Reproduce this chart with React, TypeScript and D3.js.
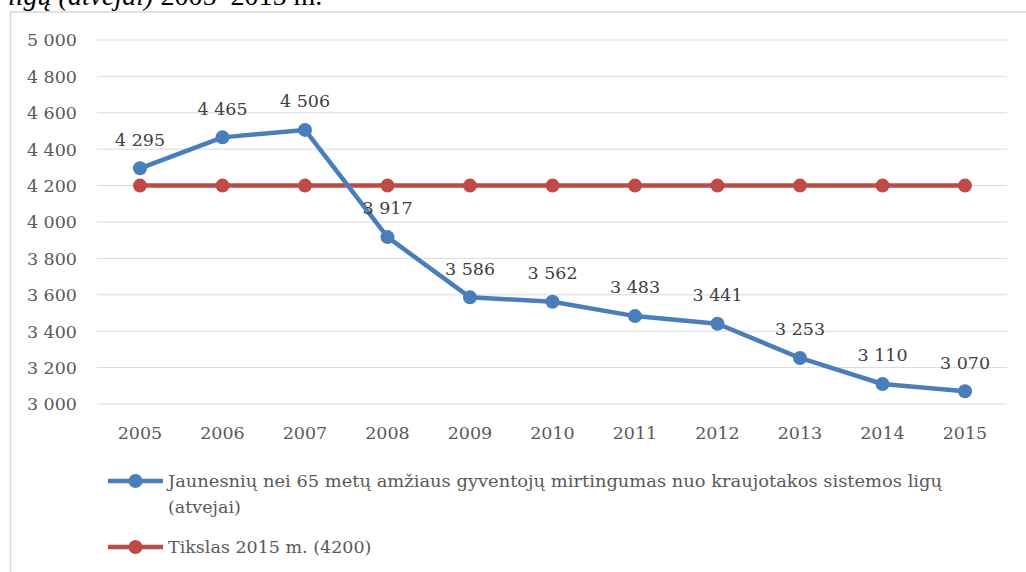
import React from "react";
import * as d3 from "d3";

const years = ["2005","2006","2007","2008","2009","2010","2011","2012","2013","2014","2015"];
const mortality = [4295,4465,4506,3917,3586,3562,3483,3441,3253,3110,3070];
const target = [4200,4200,4200,4200,4200,4200,4200,4200,4200,4200,4200];
const yTicks = [3000,3200,3400,3600,3800,4000,4200,4400,4600,4800,5000];
const seriesNames = [
  "Jaunesnių nei 65 metų amžiaus gyventojų mirtingumas nuo kraujotakos sistemos ligų",
  "(atvejai)",
];
const targetName = "Tikslas 2015 m. (4200)";
const captionItalic = "ligų (atvejai)";
const captionRest = " 2005–2015 m.";

const W = 1026, H = 572;
const BLUE = "#4a7ebb";
const RED = "#be4b48";
const FONT = "'DejaVu Serif', serif";

const fmt = (v: number) => {
  const s = String(v);
  return s.length > 3 ? s.slice(0, s.length - 3) + " " + s.slice(-3) : s;
};

export default function App() {
  const x = d3.scalePoint<string>().domain(years).range([140, 965]);
  const y = d3.scaleLinear().domain([3000, 5000]).range([404, 40]);
  const line = d3.line<number>().x((_, i) => x(years[i]) as number).y((d) => y(d));

  return (
    <div style={{ position: "fixed", left: 0, top: 0 }}>
      <svg width={W} height={H} style={{ display: "block", background: "#fff" }}>
        <text x={8} y={5} fontFamily="'Liberation Serif', serif" fontSize={28} fill="#000">
          <tspan fontStyle="italic">{captionItalic}</tspan>
          <tspan>{captionRest}</tspan>
        </text>
        {/* frame */}
        <line x1={10.5} x2={10.5} y1={12} y2={H} stroke="#d9d9d9" strokeWidth={1.5} />
        <line x1={10} x2={W} y1={12} y2={12} stroke="#d9d9d9" strokeWidth={1.5} />
        {/* grid */}
        {yTicks.map((t) => (
          <g key={t}>
            <line x1={97} x2={1007} y1={y(t)} y2={y(t)} stroke="#d9d9d9" strokeWidth={1} />
            <text x={77} y={y(t)} dy="0.36em" textAnchor="end" fontFamily={FONT} fontSize={17.5} fill="#595959">
              {fmt(t)}
            </text>
          </g>
        ))}
        {years.map((yr) => (
          <text key={yr} x={x(yr)} y={438.5} textAnchor="middle" fontFamily={FONT} fontSize={17.5} fill="#595959">
            {yr}
          </text>
        ))}
        {/* target series */}
        <path d={line(target) || ""} fill="none" stroke={RED} strokeWidth={4.5} strokeLinejoin="round" />
        {target.map((v, i) => (
          <circle key={i} cx={x(years[i])} cy={y(v)} r={7} fill={RED} />
        ))}
        {/* mortality series */}
        <path d={line(mortality) || ""} fill="none" stroke={BLUE} strokeWidth={4.5} strokeLinejoin="round" />
        {mortality.map((v, i) => (
          <circle key={i} cx={x(years[i])} cy={y(v)} r={7} fill={BLUE} />
        ))}
        {mortality.map((v, i) => (
          <text key={i} x={x(years[i])} y={y(v) - 29} dy="0.36em" textAnchor="middle" fontFamily={FONT} fontSize={17.5} fill="#404040">
            {fmt(v)}
          </text>
        ))}
        {/* legend */}
        <line x1={108} x2={163} y1={481} y2={481} stroke={BLUE} strokeWidth={4.5} />
        <circle cx={135.5} cy={481} r={7} fill={BLUE} />
        <text x={168} y={481} dy="0.36em" fontFamily={FONT} fontSize={17.5} fill="#595959" textLength={774} lengthAdjust="spacingAndGlyphs">
          {seriesNames[0]}
        </text>
        <text x={168} y={507} dy="0.36em" fontFamily={FONT} fontSize={17.5} fill="#595959">
          {seriesNames[1]}
        </text>
        <line x1={108} x2={163} y1={547} y2={547} stroke={RED} strokeWidth={4.5} />
        <circle cx={135.5} cy={547} r={7} fill={RED} />
        <text x={168} y={547} dy="0.36em" fontFamily={FONT} fontSize={17.5} fill="#595959">
          {targetName}
        </text>
      </svg>
    </div>
  );
}
